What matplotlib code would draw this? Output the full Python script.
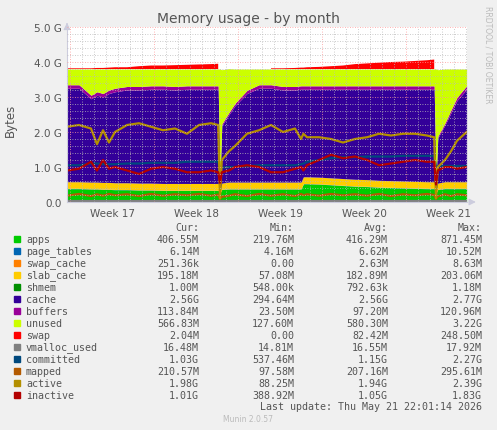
import numpy as np
import matplotlib.pyplot as plt
from matplotlib.ticker import FixedLocator

# time in days from the left edge of the graph
t = [0, 1, 2, 2.5, 3, 3.5, 4, 5, 6, 7, 8, 9, 10, 11, 12, 12.6, 12.75, 12.9, 13.5, 14, 15,
     16, 17, 18, 19, 19.5, 19.7, 20, 21, 22, 23, 24, 25, 26, 27, 28, 29, 30, 30.6, 30.75,
     30.9, 31.5, 32, 32.5, 33.3]

# values in GB
apps = [0.38, 0.38, 0.37, 0.37, 0.36, 0.36, 0.35, 0.35, 0.34, 0.34, 0.33, 0.33, 0.33, 0.33, 0.33,
        0.33, 0.25, 0.36, 0.37, 0.37, 0.37, 0.37, 0.37, 0.37, 0.37, 0.37, 0.52, 0.52, 0.51, 0.49,
        0.47, 0.45, 0.44, 0.42, 0.41, 0.40, 0.39, 0.38, 0.38, 0.25, 0.36, 0.38, 0.38, 0.38, 0.38]
page_tables = [0.006] * 45
swap_cache = [0.003] * 45
slab_cache = [0.19] * 16 + [0.06, 0.17] + [0.19] * 21 + [0.06, 0.17, 0.19, 0.19, 0.19, 0.19]
shmem = [0.001] * 45
cache = [2.67, 2.67, 2.38, 2.48, 2.44, 2.54, 2.60, 2.65, 2.66, 2.68, 2.69, 2.67, 2.69, 2.69, 2.69,
         2.69, 0.30, 1.64, 1.93, 2.18, 2.53, 2.68, 2.68, 2.63, 2.63, 2.65, 2.50, 2.50, 2.51, 2.53,
         2.55, 2.57, 2.58, 2.60, 2.61, 2.62, 2.63, 2.64, 2.64, 0.30, 1.29, 1.62, 1.97, 2.32, 2.64]
buffers = [0.10, 0.10, 0.10, 0.10, 0.10, 0.10, 0.10, 0.10, 0.10, 0.10, 0.10, 0.10, 0.10, 0.10, 0.10,
           0.10, 0.03, 0.05, 0.06, 0.07, 0.09, 0.10, 0.10, 0.10, 0.10, 0.10, 0.10, 0.10, 0.10, 0.10,
           0.10, 0.10, 0.10, 0.10, 0.10, 0.10, 0.10, 0.10, 0.10, 0.03, 0.05, 0.06, 0.08, 0.09, 0.10]
unused = [0.45, 0.45, 0.75, 0.65, 0.70, 0.60, 0.55, 0.50, 0.50, 0.48, 0.48, 0.50, 0.48, 0.48, 0.48,
          0.48, 3.15, 1.55, 1.25, 0.98, 0.61, 0.45, 0.45, 0.50, 0.50, 0.48, 0.48, 0.48, 0.48, 0.48,
          0.48, 0.48, 0.48, 0.48, 0.48, 0.48, 0.48, 0.48, 0.48, 3.15, 1.90, 1.54, 1.17, 0.81, 0.48]
swap = [0.02, 0.02, 0.02, 0.03, 0.03, 0.04, 0.05, 0.05, 0.08, 0.10, 0.10, 0.11, 0.12, 0.13, 0.14,
        0.15, 0.0, 0.0, 0.0, 0.0, 0.0, 0.0, 0.02, 0.02, 0.03, 0.04, 0.04, 0.05, 0.06, 0.08,
        0.10, 0.14, 0.16, 0.18, 0.20, 0.21, 0.23, 0.25, 0.27, 0.0, 0.0, 0.0, 0.0, 0.0, 0.0]
vmalloc_used = [0.016] * 45
committed = [1.05, 1.05, 1.10, 1.10, 1.08, 1.08, 1.08, 1.10, 1.10, 1.12, 1.12, 1.12, 1.15, 1.15, 1.15,
             1.15, 0.90, 0.98, 1.00, 1.00, 1.02, 1.05, 1.05, 1.05, 1.05, 1.08, 1.10, 1.15, 1.20, 1.25,
             1.28, 1.28, 1.30, 1.30, 1.30, 1.32, 1.32, 1.32, 1.32, 1.00, 1.02, 1.03, 1.03, 1.03, 1.03]
mapped = [0.18, 0.23, 0.17, 0.22, 0.18, 0.23, 0.19, 0.22, 0.17, 0.23, 0.18, 0.22, 0.19, 0.23, 0.18,
          0.21, 0.10, 0.15, 0.18, 0.22, 0.17, 0.23, 0.18, 0.22, 0.17, 0.23, 0.19, 0.22, 0.18, 0.23,
          0.19, 0.22, 0.18, 0.23, 0.17, 0.22, 0.19, 0.23, 0.20, 0.10, 0.16, 0.22, 0.17, 0.22, 0.19]
active = [2.15, 2.20, 2.10, 1.65, 2.05, 1.70, 2.00, 2.20, 2.25, 2.15, 2.05, 2.10, 1.95, 2.20, 2.25,
          2.20, 0.10, 1.20, 1.45, 1.60, 1.95, 2.05, 2.20, 2.00, 2.10, 1.80, 1.95, 1.85, 1.85, 1.80,
          1.70, 1.80, 1.85, 1.95, 1.90, 1.95, 1.95, 1.90, 1.85, 0.10, 1.00, 1.20, 1.45, 1.75, 2.00]
inactive = [0.90, 0.95, 1.15, 0.90, 1.20, 0.95, 1.00, 0.90, 0.80, 0.95, 1.00, 0.95, 0.85, 0.85, 0.90,
            0.85, 0.55, 0.85, 0.90, 1.00, 1.05, 1.00, 0.85, 0.85, 0.95, 1.00, 0.90, 1.05, 1.20, 1.35,
            1.25, 1.30, 1.20, 1.05, 1.10, 1.15, 1.20, 1.15, 1.15, 0.50, 0.90, 1.00, 1.00, 0.95, 1.00]

names = ["apps", "page_tables", "swap_cache", "slab_cache", "shmem", "cache", "buffers", "unused",
         "swap", "vmalloc_used", "committed", "mapped", "active", "inactive"]
colors = ["#00CC00", "#0066B3", "#FF8000", "#FFCC00", "#008F00", "#330099", "#990099", "#CCFF00",
          "#FF0000", "#808080", "#00487D", "#B35A00", "#B38F00", "#B30000"]
cur = ["406.55M", "6.14M", "251.36k", "195.18M", "1.00M", "2.56G", "113.84M", "566.83M", "2.04M",
       "16.48M", "1.03G", "210.57M", "1.98G", "1.01G"]
mins = ["219.76M", "4.16M", "0.00", "57.08M", "548.00k", "294.64M", "23.50M", "127.60M", "0.00",
        "14.81M", "537.46M", "97.58M", "88.25M", "388.92M"]
avgs = ["416.29M", "6.62M", "2.63M", "182.89M", "792.63k", "2.56G", "97.20M", "580.30M", "82.42M",
        "16.55M", "1.15G", "207.16M", "1.94G", "1.05G"]
maxs = ["871.45M", "10.52M", "8.63M", "203.06M", "1.18M", "2.77G", "120.96M", "3.22G", "248.50M",
        "17.92M", "2.27G", "295.61M", "2.39G", "1.83G"]

W, H = 497, 431
fig = plt.figure(figsize=(W / 100, H / 100), dpi=100, facecolor="#F0F0F0")
ax = fig.add_axes([67 / W, 1 - 203 / H, 400 / W, 175 / H])
ax.set_facecolor("white")

stack = [apps, page_tables, swap_cache, slab_cache, shmem, cache, buffers, unused, swap]
base = np.zeros(len(t))
for vals, col in zip(stack, colors[:9]):
    top = base + np.array(vals)
    mask = np.array(vals) > 0
    ax.fill_between(t, base, top, color=col, linewidth=0, where=mask if col == "#FF0000" else None)
    base = top

for vals, col in zip([vmalloc_used, committed, mapped, active, inactive], colors[9:]):
    ax.plot(t, vals, color=col, linewidth=1.6)

ax.set_xlim(0, 400 / 12)
ax.set_ylim(0, 5.0)

# grid drawn over the areas, like rrdtool
for d in np.arange(0.25, 33.4, 1):
    is_week = abs((d - 0.25) % 7) < 1e-6
    ax.axvline(d, color="#FF9999" if is_week else "#BBBBBB", linestyle=(0, (1, 2)), linewidth=0.6,
               zorder=5)
for y in np.arange(0.2, 5.01, 0.2):
    major = abs(y - round(y)) < 1e-6
    ax.axhline(y, color="#FF9999" if major else "#BBBBBB", linestyle=(0, (1, 2)), linewidth=0.6,
               zorder=5)

ax.yaxis.set_major_locator(FixedLocator([0, 1, 2, 3, 4, 5]))
ax.set_yticklabels(["0.0", "1.0 G", "2.0 G", "3.0 G", "4.0 G", "5.0 G"], fontsize=7.5, color="#555555")
ax.xaxis.set_major_locator(FixedLocator([3.75 + 7 * k for k in range(5)]))
ax.set_xticklabels(["Week 17", "Week 18", "Week 19", "Week 20", "Week 21"], fontsize=7.5, color="#555555")
ax.tick_params(length=0, pad=4)
for s in ["top", "right"]:
    ax.spines[s].set_visible(False)
for s in ["left", "bottom"]:
    ax.spines[s].set_color("#CCCCDD")
ax.annotate("", xy=(34.3, 0), xytext=(33.3, 0), annotation_clip=False,
            arrowprops=dict(arrowstyle="-|>", color="#CCCCDD", lw=0.8))
ax.annotate("", xy=(0, 5.2), xytext=(0, 5.0), annotation_clip=False,
            arrowprops=dict(arrowstyle="-|>", color="#CCCCDD", lw=0.8))

fig.text(248 / W, 1 - 19 / H, "Memory usage - by month", ha="center", va="center", fontsize=10,
         color="#555555")
fig.text(10 / W, 1 - 120 / H, "Bytes", rotation=90, ha="center", va="center", fontsize=8.5,
         color="#555555")
fig.text(488 / W, 1 - 55 / H, "RRDTOOL / TOBI OETIKER", rotation=270, ha="center", va="center",
         fontsize=5.5, color="#BBBBBB")

mono = dict(family="DejaVu Sans Mono", fontsize=7.2, color="#555555", va="center")
cols_x = [199, 294, 388, 482]
for x, h in zip(cols_x, ["Cur:", "Min:", "Avg:", "Max:"]):
    fig.text(x / W, 1 - 228 / H, h, ha="right", **mono)
for i, name in enumerate(names):
    y = 1 - (240 + 12 * i) / H
    fig.patches.append(plt.Rectangle((14 / W, y - 2.8 / H), 6 / W, 6 / H, color=colors[i],
                                     transform=fig.transFigure, figure=fig))
    fig.text(26 / W, y, name, ha="left", **mono)
    for x, v in zip(cols_x, [cur[i], mins[i], avgs[i], maxs[i]]):
        fig.text(x / W, y, v, ha="right", **mono)
fig.text(482 / W, 1 - 407 / H, "Last update: Thu May 21 22:01:14 2026", ha="right", **mono)
fig.text(248 / W, 1 - 420 / H, "Munin 2.0.57", ha="center", va="center", fontsize=5.5, color="#BBBBBB")

fig.savefig("out.png", dpi=100, facecolor=fig.get_facecolor())
